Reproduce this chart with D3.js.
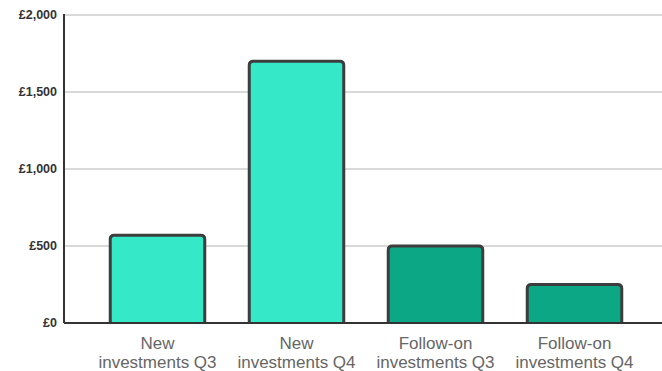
<!DOCTYPE html>
<html>
<head>
<meta charset="utf-8">
<script src="https://cdn.jsdelivr.net/npm/d3@7"></script>
<style>
  html, body { margin: 0; padding: 0; background: #fff; }
  svg { display: block; font-family: Arial, "Liberation Sans", sans-serif; }
</style>
</head>
<body>
<svg id="chart" width="662" height="371"></svg>
<script>
const categories = [
  ["New", "investments Q3"],
  ["New", "investments Q4"],
  ["Follow-on", "investments Q3"],
  ["Follow-on", "investments Q4"]
];
const values = [570, 1700, 500, 250];
const barColors = ["#34e8c8", "#34e8c8", "#0ca886", "#0ca886"];
const yTicks = [0, 500, 1000, 1500, 2000];

const svg = d3.select("#chart");
const plotLeft = 64, plotRight = 662, plotTop = 15, plotBottom = 323;

const x = d3.scaleBand()
  .domain(d3.range(categories.length))
  .range([88, 644])
  .paddingInner(0.32)
  .paddingOuter(0.16);

const y = d3.scaleLinear().domain([0, 2000]).range([plotBottom, plotTop]);

// horizontal gridlines
svg.append("g")
  .selectAll("line")
  .data(yTicks.filter(d => d > 0))
  .join("line")
  .attr("x1", plotLeft).attr("x2", plotRight)
  .attr("y1", d => y(d)).attr("y2", d => y(d))
  .attr("stroke", "#d9d9d9")
  .attr("stroke-width", 2);

// y tick labels
const fmt = d => "£" + d3.format(",")(d);
svg.append("g")
  .selectAll("text")
  .data(yTicks)
  .join("text")
  .attr("x", 57)
  .attr("y", d => y(d))
  .attr("dy", "0.35em")
  .attr("text-anchor", "end")
  .attr("font-size", 12.5)
  .attr("font-weight", "bold")
  .attr("fill", "#333")
  .text(fmt);

// bars with rounded top corners
svg.append("g")
  .selectAll("path")
  .data(values)
  .join("path")
  .attr("d", (d, i) => {
    const x0 = x(i), w = x.bandwidth(), y0 = y(d), yb = y(0), r = 4;
    return `M${x0},${yb} V${y0 + r} Q${x0},${y0} ${x0 + r},${y0} H${x0 + w - r} Q${x0 + w},${y0} ${x0 + w},${y0 + r} V${yb}`;
  })
  .attr("fill", (d, i) => barColors[i])
  .attr("stroke", "#3d3d3d")
  .attr("stroke-width", 3);

// axis lines
svg.append("line")
  .attr("x1", plotLeft).attr("x2", plotLeft)
  .attr("y1", plotTop - 1).attr("y2", plotBottom)
  .attr("stroke", "#333").attr("stroke-width", 2);
svg.append("line")
  .attr("x1", plotLeft).attr("x2", plotRight)
  .attr("y1", plotBottom).attr("y2", plotBottom)
  .attr("stroke", "#333").attr("stroke-width", 2);

// category labels
const lab = svg.append("g")
  .selectAll("text")
  .data(categories)
  .join("text")
  .attr("text-anchor", "middle")
  .attr("font-size", 17)
  .attr("fill", "#666");
lab.each(function(lines, i) {
  const t = d3.select(this);
  lines.forEach((s, k) => {
    t.append("tspan")
      .attr("x", x(i) + x.bandwidth() / 2)
      .attr("y", 349 + k * 19)
      .text(s);
  });
});
</script>
</body>
</html>
